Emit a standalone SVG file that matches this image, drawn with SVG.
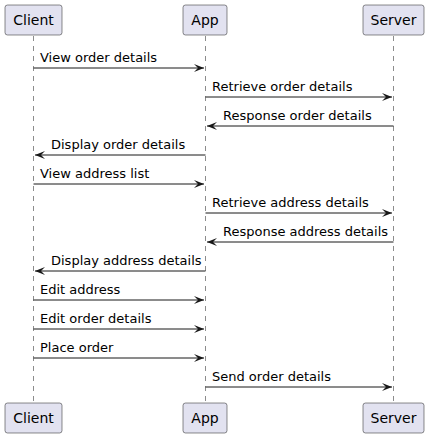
<svg xmlns="http://www.w3.org/2000/svg" width="429" height="440" viewBox="0 0 429 440">
<style>
.box{fill:#E2E2F0;stroke:#181818;stroke-width:0.5}
.pt{font-family:"DejaVu Sans",sans-serif;font-size:14px;fill:#000;text-anchor:middle}
.life{stroke:#181818;stroke-width:0.5;stroke-dasharray:5,5;fill:none}
.msg{stroke:#181818;stroke-width:1;fill:none}
.ml{font-family:"DejaVu Sans",sans-serif;font-size:13px;fill:#000}
</style>
<defs>
<marker id="ah" markerWidth="10" markerHeight="8" refX="10" refY="4" orient="auto" markerUnits="userSpaceOnUse">
<polygon points="0,0 10,4 0,8 4,4" fill="#181818"/>
</marker>
</defs>
<rect width="429" height="440" fill="#fff"/>
<g id="lifelines">
<line class="life" x1="33.5" y1="36" x2="33.5" y2="403"/>
<line class="life" x1="205.5" y1="36" x2="205.5" y2="403"/>
<line class="life" x1="393.5" y1="36" x2="393.5" y2="403"/>
</g>
<g id="client">
<rect class="box" x="5" y="5" width="57" height="30" rx="2.5"/>
<text class="pt" x="33.5" y="25">Client</text>
<rect class="box" x="5" y="403" width="57" height="30" rx="2.5"/>
<text class="pt" x="33.5" y="423">Client</text>
</g>
<g id="app">
<rect class="box" x="183" y="5" width="44" height="30" rx="2.5"/>
<text class="pt" x="205" y="25">App</text>
<rect class="box" x="183" y="403" width="44" height="30" rx="2.5"/>
<text class="pt" x="205" y="423">App</text>
</g>
<g id="server">
<rect class="box" x="363" y="5" width="61" height="30" rx="2.5"/>
<text class="pt" x="393.5" y="25">Server</text>
<rect class="box" x="363" y="403" width="61" height="30" rx="2.5"/>
<text class="pt" x="393.5" y="423">Server</text>
</g>
<g id="connectors">
<line class="msg" x1="33.5" y1="68" x2="204" y2="68" marker-end="url(#ah)"/>
<text class="ml" x="40" y="62">View order details</text>
<line class="msg" x1="205.5" y1="97" x2="392" y2="97" marker-end="url(#ah)"/>
<text class="ml" x="212" y="91">Retrieve order details</text>
<line class="msg" x1="393.5" y1="126" x2="207" y2="126" marker-end="url(#ah)"/>
<text class="ml" x="223" y="120">Response order details</text>
<line class="msg" x1="205.5" y1="155" x2="35" y2="155" marker-end="url(#ah)"/>
<text class="ml" x="51" y="149">Display order details</text>
<line class="msg" x1="33.5" y1="184" x2="204" y2="184" marker-end="url(#ah)"/>
<text class="ml" x="40" y="178">View address list</text>
<line class="msg" x1="205.5" y1="213" x2="392" y2="213" marker-end="url(#ah)"/>
<text class="ml" x="212" y="207">Retrieve address details</text>
<line class="msg" x1="393.5" y1="242" x2="207" y2="242" marker-end="url(#ah)"/>
<text class="ml" x="223" y="236">Response address details</text>
<line class="msg" x1="205.5" y1="271" x2="35" y2="271" marker-end="url(#ah)"/>
<text class="ml" x="51" y="265">Display address details</text>
<line class="msg" x1="33.5" y1="300" x2="204" y2="300" marker-end="url(#ah)"/>
<text class="ml" x="40" y="294">Edit address</text>
<line class="msg" x1="33.5" y1="329" x2="204" y2="329" marker-end="url(#ah)"/>
<text class="ml" x="40" y="323">Edit order details</text>
<line class="msg" x1="33.5" y1="358" x2="204" y2="358" marker-end="url(#ah)"/>
<text class="ml" x="40" y="352">Place order</text>
<line class="msg" x1="205.5" y1="387" x2="392" y2="387" marker-end="url(#ah)"/>
<text class="ml" x="212" y="381">Send order details</text>
</g>
</svg>
